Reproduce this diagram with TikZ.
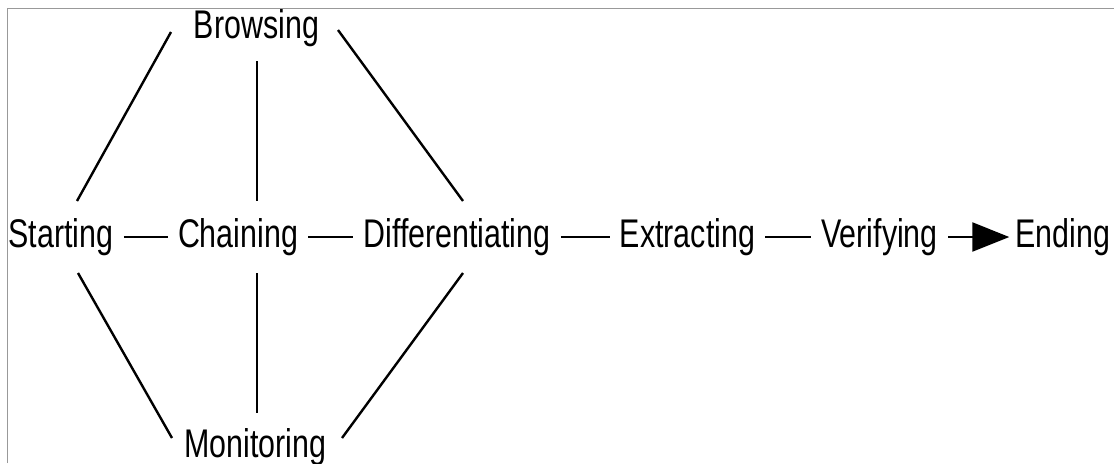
\documentclass[tikz,border=0pt]{standalone}
\usepackage{fontspec}
\setmainfont{Liberation Sans}[FakeStretch=0.76]
\usetikzlibrary{calc,arrows.meta}

\tikzset{
  stage/.style={inner xsep=5pt, inner ysep=0pt, text height=10pt, text depth=0pt,
    font=\fontsize{20}{24}\selectfont},
  link/.style={line width=1.2pt}
}

\begin{document}
\begin{tikzpicture}[x=0.5pt,y=-0.5pt]
\useasboundingbox (0,0) rectangle (1114,463);
\draw[gray!80, line width=0.6pt] (7.5,463) -- (7.5,8.5) -- (1114,8.5);

\node[stage] (start) at (61,237) {Starting};
\node[stage] (chain) at (238,237) {Chaining};
\node[stage] (diff) at (457,237) {Differentiating};
\node[stage] (extract) at (687.5,237) {Extracting};
\node[stage] (verify) at (879.5,237) {Verifying};
\node[stage] (ending) at (1063,237) {Ending};
\node[stage] (browse) at (256.5,28) {Browsing};
\node[stage] (monitor) at (255.5,447) {Monitoring};

\draw[link] (start) -- (chain);
\draw[link] (chain) -- (diff);
\draw[link] (diff) -- (extract);
\draw[link] (extract) -- (verify);
\draw[link, -{Triangle[length=18.5pt, width=14.5pt]}, shorten >=-2pt] (verify) -- (ending);

\draw[link] ($(browse)+(-85.5,4)$) -- ($(start)+(16,-36)$);
\draw[link] ($(browse)+(0.5,33)$) -- ($(chain)+(19,-36)$);
\draw[link] ($(browse)+(81.5,2)$) -- ($(diff)+(6,-36)$);
\draw[link] ($(start)+(17,36)$) -- ($(monitor)+(-83.5,-9)$);
\draw[link] ($(chain)+(19,36)$) -- ($(monitor)+(1.5,-34)$);
\draw[link] ($(diff)+(6,36)$) -- ($(monitor)+(86.5,-9)$);
\end{tikzpicture}
\end{document}
